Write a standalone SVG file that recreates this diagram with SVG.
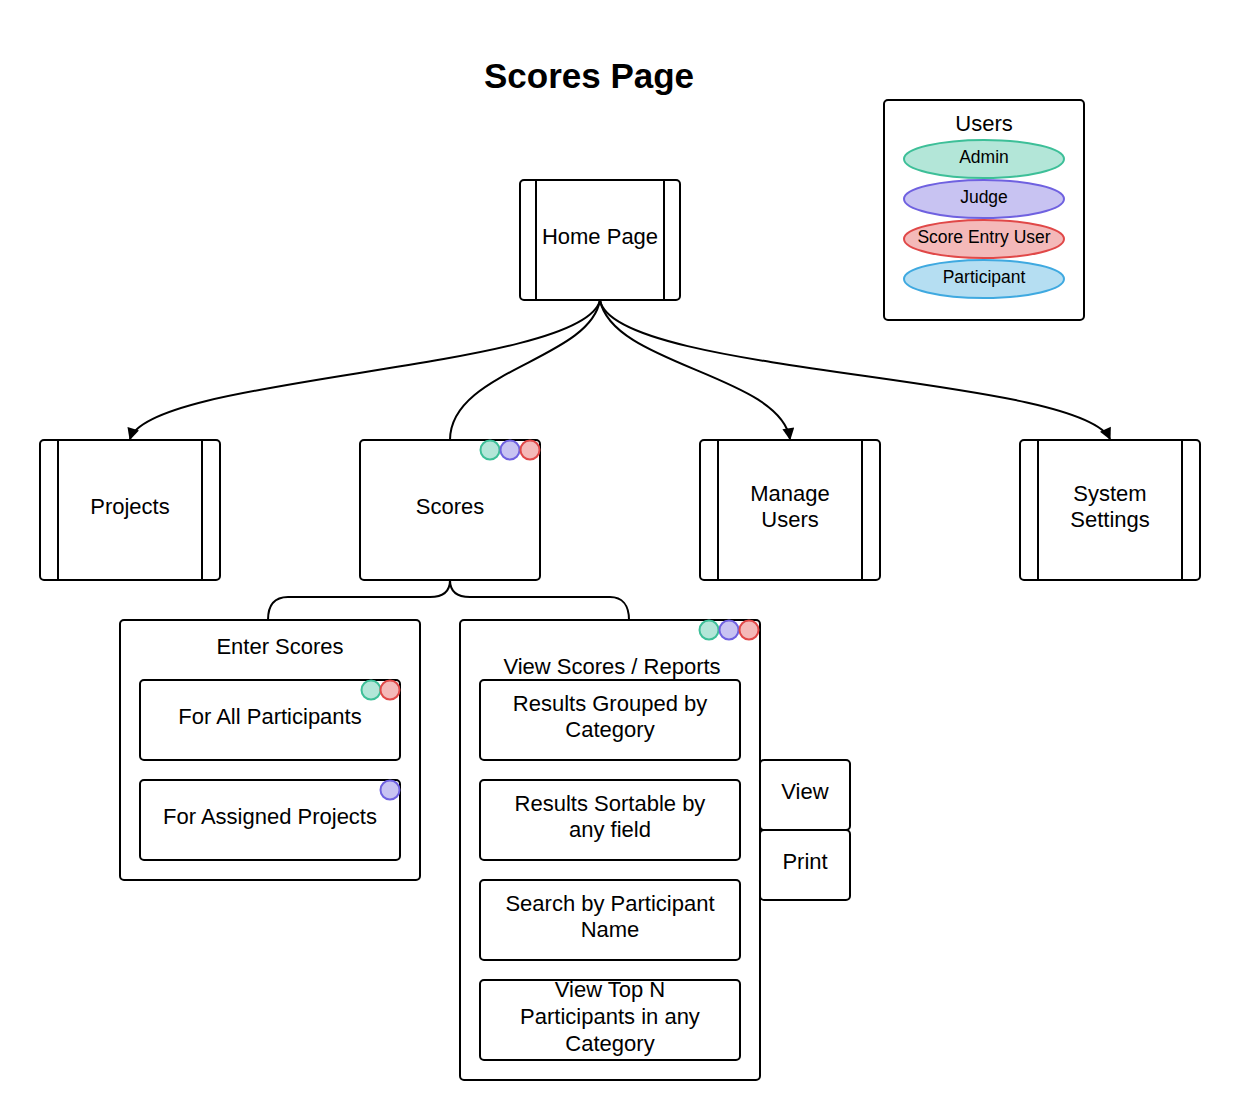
<svg xmlns="http://www.w3.org/2000/svg" width="1240" height="1120" viewBox="0 0 1240 1120">
  <style>
    .box { fill: #ffffff; stroke: #000000; stroke-width: 2; }
    .bar { stroke: #000000; stroke-width: 2; }
    .lbl { font-family: "Liberation Sans", Arial, sans-serif; font-size: 22px; fill: #000000; text-anchor: middle; }
    .small { font-family: "Liberation Sans", Arial, sans-serif; font-size: 17.5px; fill: #000000; text-anchor: middle; }
    .title { font-family: "Liberation Sans", Arial, sans-serif; font-size: 35px; font-weight: bold; fill: #000000; text-anchor: middle; }
    .wire { fill: none; stroke: #000000; stroke-width: 2; }
    .admin { fill: #b3e6d8; stroke: #3dbf98; stroke-width: 2; }
    .judge { fill: #c8c3f2; stroke: #6f61e0; stroke-width: 2; }
    .entry { fill: #f4b9b9; stroke: #e04848; stroke-width: 2; }
    .part { fill: #b5def2; stroke: #3fa9e0; stroke-width: 2; }
  </style>
  <defs>
    <marker id="arrow" viewBox="0 0 10 10" refX="9" refY="5" markerWidth="15" markerHeight="12" markerUnits="userSpaceOnUse" orient="auto">
      <path d="M0,0 L10,5 L0,10 z" fill="#000000"/>
    </marker>
  </defs>

  <rect width="1240" height="1120" fill="#ffffff"/>

  <text class="title" x="589" y="88">Scores Page</text>

  <!-- Legend of user roles -->
  <g id="legend">
    <rect class="box" x="884" y="100" width="200" height="220" rx="4"/>
    <text class="lbl" x="984" y="131">Users</text>
    <ellipse class="admin" cx="984" cy="159" rx="80" ry="19"/>
    <text class="small" x="984" y="163">Admin</text>
    <ellipse class="judge" cx="984" cy="199" rx="80" ry="19"/>
    <text class="small" x="984" y="203">Judge</text>
    <ellipse class="entry" cx="984" cy="239" rx="80" ry="19"/>
    <text class="small" x="984" y="243">Score Entry User</text>
    <ellipse class="part" cx="984" cy="279" rx="80" ry="19"/>
    <text class="small" x="984" y="283">Participant</text>
  </g>

  <!-- Connectors -->
  <g id="connectors">
    <path class="wire" d="M600,300 C585,370 150,375 130,439" marker-end="url(#arrow)"/>
    <path class="wire" d="M600,300 C590,360 450,370 450,440"/>
    <path class="wire" d="M600,300 C612,365 780,375 790,439" marker-end="url(#arrow)"/>
    <path class="wire" d="M600,300 C612,375 1080,375 1110,439" marker-end="url(#arrow)"/>
    <!-- brace splitting Scores into its two sections -->
    <path class="wire" d="M450,580 C450,592 442,597 430,597 L288,597 C275,597 268,605 268,620"/>
    <path class="wire" d="M450,580 C450,592 458,597 470,597 L610,597 C622,597 629,605 629,620"/>
  </g>

  <g id="home-page">
    <rect class="box" x="520" y="180" width="160" height="120" rx="4"/>
    <line class="bar" x1="536" y1="180" x2="536" y2="300"/>
    <line class="bar" x1="664" y1="180" x2="664" y2="300"/>
    <text class="lbl" x="600" y="244">Home Page</text>
  </g>

  <g id="projects">
    <rect class="box" x="40" y="440" width="180" height="140" rx="4"/>
    <line class="bar" x1="58" y1="440" x2="58" y2="580"/>
    <line class="bar" x1="202" y1="440" x2="202" y2="580"/>
    <text class="lbl" x="130" y="514">Projects</text>
  </g>

  <g id="scores">
    <rect class="box" x="360" y="440" width="180" height="140" rx="4"/>
    <text class="lbl" x="450" y="514">Scores</text>
    <circle class="admin" cx="490" cy="450" r="9.5"/>
    <circle class="judge" cx="510" cy="450" r="9.5"/>
    <circle class="entry" cx="530" cy="450" r="9.5"/>
  </g>

  <g id="manage-users">
    <rect class="box" x="700" y="440" width="180" height="140" rx="4"/>
    <line class="bar" x1="718" y1="440" x2="718" y2="580"/>
    <line class="bar" x1="862" y1="440" x2="862" y2="580"/>
    <text class="lbl" x="790" y="501">Manage</text>
    <text class="lbl" x="790" y="527">Users</text>
  </g>

  <g id="system-settings">
    <rect class="box" x="1020" y="440" width="180" height="140" rx="4"/>
    <line class="bar" x1="1038" y1="440" x2="1038" y2="580"/>
    <line class="bar" x1="1182" y1="440" x2="1182" y2="580"/>
    <text class="lbl" x="1110" y="501">System</text>
    <text class="lbl" x="1110" y="527">Settings</text>
  </g>

  <g id="enter-scores">
    <rect class="box" x="120" y="620" width="300" height="260" rx="4"/>
    <text class="lbl" x="280" y="654">Enter Scores</text>
  </g>

  <g id="for-all-participants">
    <rect class="box" x="140" y="680" width="260" height="80" rx="4"/>
    <text class="lbl" x="270" y="724">For All Participants</text>
    <circle class="admin" cx="371" cy="690" r="9.5"/>
    <circle class="entry" cx="390" cy="690" r="9.5"/>
  </g>

  <g id="for-assigned-projects">
    <rect class="box" x="140" y="780" width="260" height="80" rx="4"/>
    <text class="lbl" x="270" y="824">For Assigned Projects</text>
    <circle class="judge" cx="390" cy="790" r="9.5"/>
  </g>

  <g id="view-scores">
    <rect class="box" x="460" y="620" width="300" height="460" rx="4"/>
    <text class="lbl" x="612" y="674">View Scores / Reports</text>
    <circle class="admin" cx="709" cy="630" r="9.5"/>
    <circle class="judge" cx="729" cy="630" r="9.5"/>
    <circle class="entry" cx="749" cy="630" r="9.5"/>
  </g>

  <g id="results-grouped">
    <rect class="box" x="480" y="680" width="260" height="80" rx="4"/>
    <text class="lbl" x="610" y="711">Results Grouped by</text>
    <text class="lbl" x="610" y="737">Category</text>
  </g>

  <g id="results-sortable">
    <rect class="box" x="480" y="780" width="260" height="80" rx="4"/>
    <text class="lbl" x="610" y="811">Results Sortable by</text>
    <text class="lbl" x="610" y="837">any field</text>
  </g>

  <g id="search-participant">
    <rect class="box" x="480" y="880" width="260" height="80" rx="4"/>
    <text class="lbl" x="610" y="911">Search by Participant</text>
    <text class="lbl" x="610" y="937">Name</text>
  </g>

  <g id="view-top-n">
    <rect class="box" x="480" y="980" width="260" height="80" rx="4"/>
    <text class="lbl" x="610" y="997">View Top N</text>
    <text class="lbl" x="610" y="1024">Participants in any</text>
    <text class="lbl" x="610" y="1051">Category</text>
  </g>

  <g id="view">
    <rect class="box" x="760" y="760" width="90" height="70" rx="4"/>
    <text class="lbl" x="805" y="799">View</text>
  </g>

  <g id="print">
    <rect class="box" x="760" y="830" width="90" height="70" rx="4"/>
    <text class="lbl" x="805" y="869">Print</text>
  </g>
</svg>
